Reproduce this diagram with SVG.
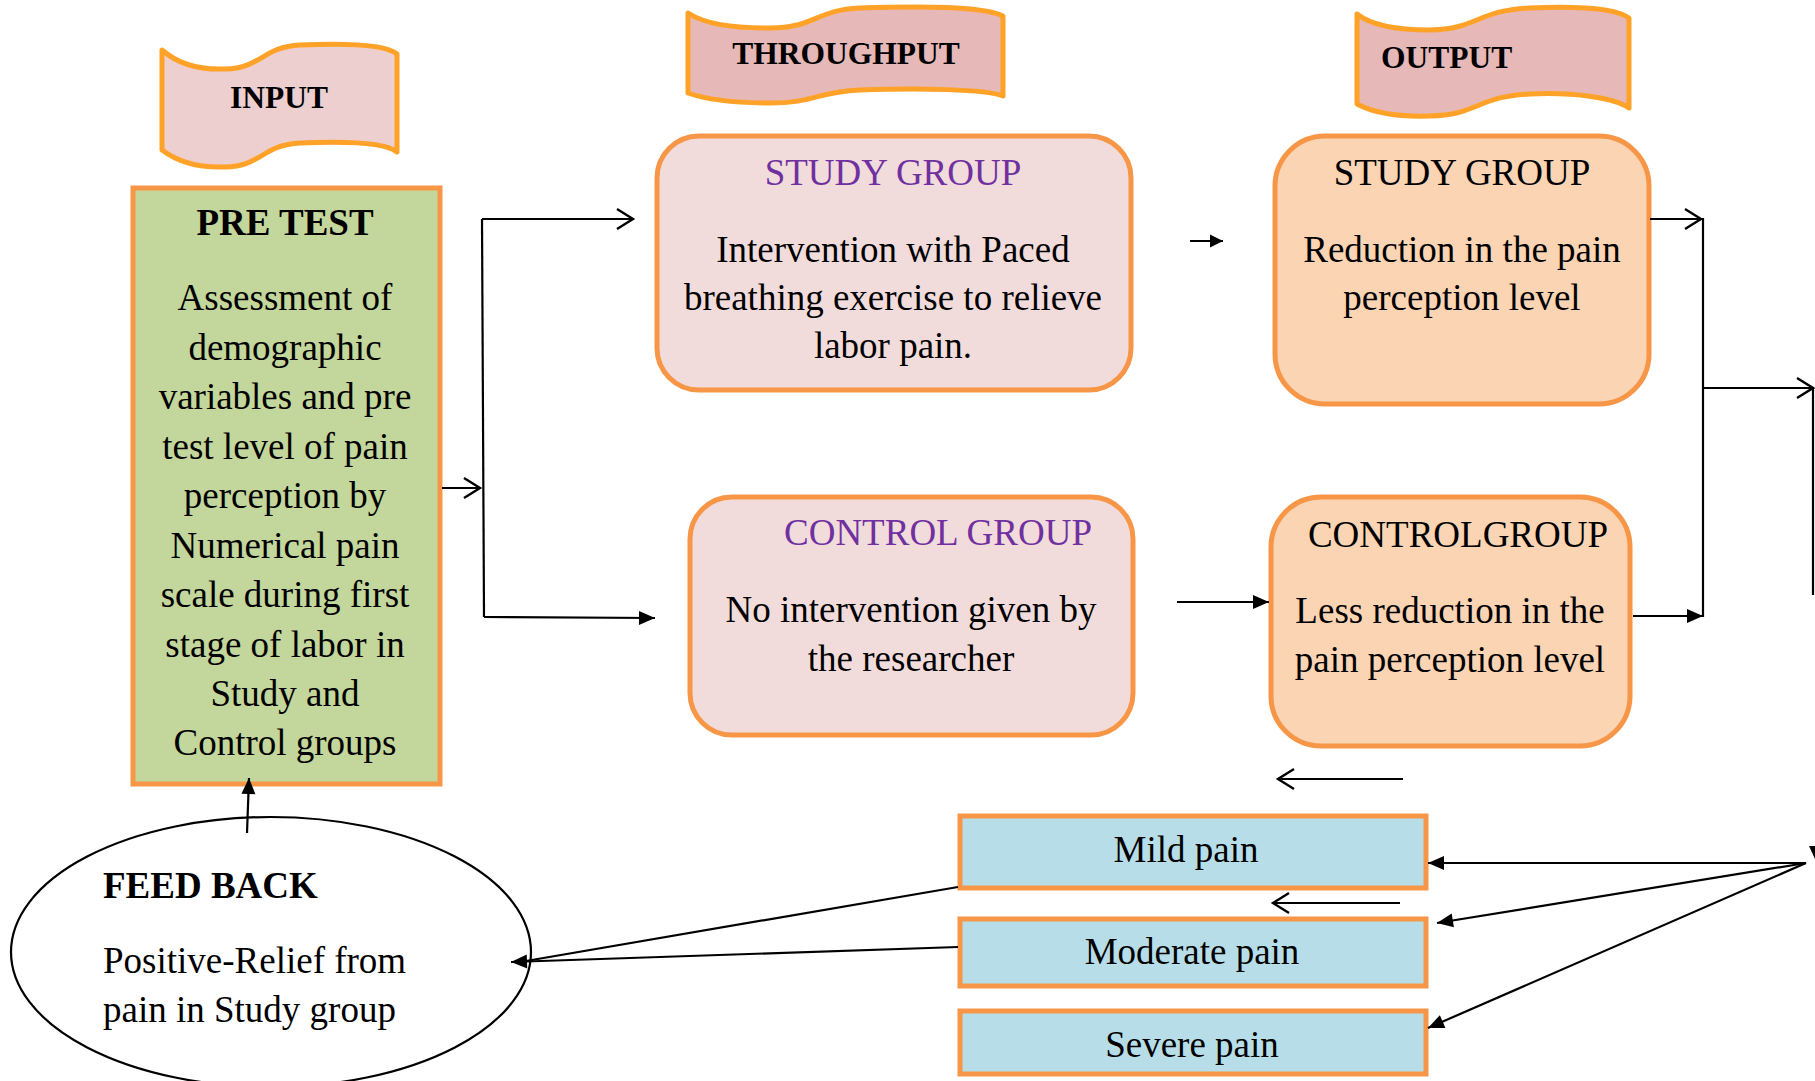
<svg xmlns="http://www.w3.org/2000/svg" width="1815" height="1081" viewBox="0 0 1815 1081">
<defs>
<style>
text{font-family:"Liberation Serif","Times New Roman",serif;fill:#000}
.b{font-weight:bold}
.f37{font-size:37px}
.f31{font-size:31.5px}
.pur{fill:#7030A0}
.mid{text-anchor:middle}
.banner{stroke:#FFA227;stroke-width:5;stroke-linejoin:round}
.box{stroke:#F79646;stroke-width:5}
.conn{stroke:#000;stroke-width:2.2;fill:none}
</style>
<marker id="fa" viewBox="0 0 16 14" refX="16" refY="7" markerWidth="16" markerHeight="14" markerUnits="userSpaceOnUse" orient="auto" overflow="visible">
<path d="M0,0 L16,7 L0,14 Z" fill="#000"/>
</marker>
<marker id="fs" viewBox="0 0 13 13" refX="13" refY="6.5" markerWidth="13" markerHeight="13" markerUnits="userSpaceOnUse" orient="auto" overflow="visible">
<path d="M0,0 L13,6.5 L0,13 Z" fill="#000"/>
</marker>
<marker id="oa" viewBox="0 0 16 20" refX="16" refY="10" markerWidth="16" markerHeight="20" markerUnits="userSpaceOnUse" orient="auto" overflow="visible">
<path d="M0,0 L16,10 L0,20" fill="none" stroke="#000" stroke-width="2.4" stroke-linejoin="miter"/>
</marker>
</defs>
<rect width="1815" height="1081" fill="#fff"/>

<g id="input-banner">
<path class="banner" fill="#EDCFCF" d="M162,50 C178,64 200,70 225,69 C262,68 262,47 300,45 C345,43 385,44 397,54 L397,152 C385,142 345,141 300,143 C262,145 262,166 225,167 C200,168 178,162 162,150 Z"/>
<text class="b f31 mid" x="279" y="108">INPUT</text>
</g>
<g id="throughput-banner">
<path class="banner" fill="#E6B8B7" d="M688,13 C705,24 730,28 770,28 C815,28 815,10 860,8 C920,6 985,6 1003,16 L1003,96 C985,89 920,88 860,90 C815,92 815,103 770,103 C730,103 705,99 688,93 Z"/>
<text class="b f31 mid" x="846" y="64">THROUGHPUT</text>
</g>
<g id="output-banner">
<path class="banner" fill="#E6B8B7" d="M1357,14 C1372,26 1398,30 1430,30 C1478,29 1478,10 1530,8 C1575,6 1615,8 1629,18 L1629,108 C1615,98 1575,92 1530,94 C1478,96 1478,115 1430,116 C1398,117 1372,112 1357,104 Z"/>
<text class="b f31" x="1381" y="68">OUTPUT</text>
</g>

<g id="pretest">
<rect class="box" x="133" y="188" width="307" height="596" fill="#C3D69B"/>
<text class="b f37 mid" x="285" y="235">PRE TEST</text>
<text class="f37 mid" x="285" y="310">Assessment of</text>
<text class="f37 mid" x="285" y="359.5">demographic</text>
<text class="f37 mid" x="285" y="409">variables and pre</text>
<text class="f37 mid" x="285" y="458.5">test level of pain</text>
<text class="f37 mid" x="285" y="508">perception by</text>
<text class="f37 mid" x="285" y="557.5">Numerical pain</text>
<text class="f37 mid" x="285" y="607">scale during first</text>
<text class="f37 mid" x="285" y="656.5">stage of labor in</text>
<text class="f37 mid" x="285" y="706">Study and</text>
<text class="f37 mid" x="285" y="755">Control groups</text>
</g>

<g id="throughput-study">
<rect class="box" x="657" y="136" width="474" height="254" rx="42" ry="42" fill="#F2DCDB"/>
<text class="f37 mid pur" x="893" y="185">STUDY GROUP</text>
<text class="f37 mid" x="893" y="262">Intervention with Paced</text>
<text class="f37 mid" x="893" y="310">breathing exercise to relieve</text>
<text class="f37 mid" x="893" y="358">labor pain.</text>
</g>

<g id="throughput-control">
<rect class="box" x="690" y="497" width="443" height="238" rx="42" ry="42" fill="#F2DCDB"/>
<text class="f37 mid pur" x="938" y="545">CONTROL GROUP</text>
<text class="f37 mid" x="911" y="622">No intervention given by</text>
<text class="f37 mid" x="911" y="671">the researcher</text>
</g>

<g id="output-study">
<rect class="box" x="1275" y="136" width="374" height="268" rx="50" ry="50" fill="#FBD4B4"/>
<text class="f37 mid" x="1462" y="185">STUDY GROUP</text>
<text class="f37 mid" x="1462" y="262">Reduction in the pain</text>
<text class="f37 mid" x="1462" y="310">perception level</text>
</g>

<g id="output-control">
<rect class="box" x="1271" y="497" width="359" height="249" rx="50" ry="50" fill="#FBD4B4"/>
<text class="f37 mid" x="1458" y="547">CONTROLGROUP</text>
<text class="f37 mid" x="1450" y="623">Less reduction in the</text>
<text class="f37 mid" x="1450" y="672">pain perception level</text>
</g>

<g id="mild-pain">
<rect class="box" x="960" y="816" width="466" height="72" fill="#B7DEE8"/>
<text class="f37 mid" x="1186" y="862">Mild pain</text>
</g>
<g id="moderate-pain">
<rect class="box" x="960" y="919" width="466" height="67" fill="#B7DEE8"/>
<text class="f37 mid" x="1192" y="964">Moderate pain</text>
</g>
<g id="severe-pain">
<rect class="box" x="960" y="1011" width="466" height="63" fill="#B7DEE8"/>
<text class="f37 mid" x="1192" y="1057">Severe pain</text>
</g>

<g id="feedback">
<ellipse cx="271" cy="952" rx="260" ry="135" fill="#fff" stroke="#000" stroke-width="2.2"/>
<text class="b f37" x="103" y="898">FEED BACK</text>
<text class="f37" x="103" y="973">Positive-Relief from</text>
<text class="f37" x="103" y="1022">pain in Study group</text>
</g>

<g id="connectors">
<line class="conn" x1="442" y1="488" x2="480" y2="488" marker-end="url(#oa)"/>
<line class="conn" x1="482" y1="219" x2="484" y2="617"/>
<line class="conn" x1="482" y1="219" x2="633" y2="219" marker-end="url(#oa)"/>
<line class="conn" x1="484" y1="617" x2="655" y2="618" marker-end="url(#fa)"/>
<line class="conn" x1="1190" y1="241" x2="1223" y2="241" stroke-width="2.8" marker-end="url(#fs)"/>
<line class="conn" x1="1177" y1="602" x2="1269" y2="602" marker-end="url(#fa)"/>
<line class="conn" x1="1650" y1="219" x2="1701" y2="219" marker-end="url(#oa)"/>
<line class="conn" x1="1703" y1="218" x2="1703" y2="617"/>
<line class="conn" x1="1633" y1="616" x2="1703" y2="616" marker-end="url(#fa)"/>
<line class="conn" x1="1703" y1="388" x2="1813" y2="388" marker-end="url(#oa)"/>
<line class="conn" x1="1813" y1="388" x2="1813" y2="595"/>
<path d="M1809,846 L1815,846 L1815,859 Z" fill="#000"/>
<line class="conn" x1="1403" y1="779" x2="1278" y2="779" marker-end="url(#oa)"/>
<line class="conn" x1="1400" y1="903" x2="1273" y2="903" marker-end="url(#oa)"/>
<line class="conn" x1="1806" y1="863" x2="1428" y2="863" marker-end="url(#fa)"/>
<line class="conn" x1="1806" y1="863" x2="1437" y2="923" marker-end="url(#fa)"/>
<line class="conn" x1="1806" y1="863" x2="1428" y2="1028" marker-end="url(#fa)"/>
<line class="conn" x1="958" y1="887" x2="526" y2="961"/>
<line class="conn" x1="958" y1="947" x2="511" y2="962" marker-end="url(#fa)"/>
<line class="conn" x1="247" y1="833" x2="249" y2="778" marker-end="url(#fa)"/>
</g>
</svg>
